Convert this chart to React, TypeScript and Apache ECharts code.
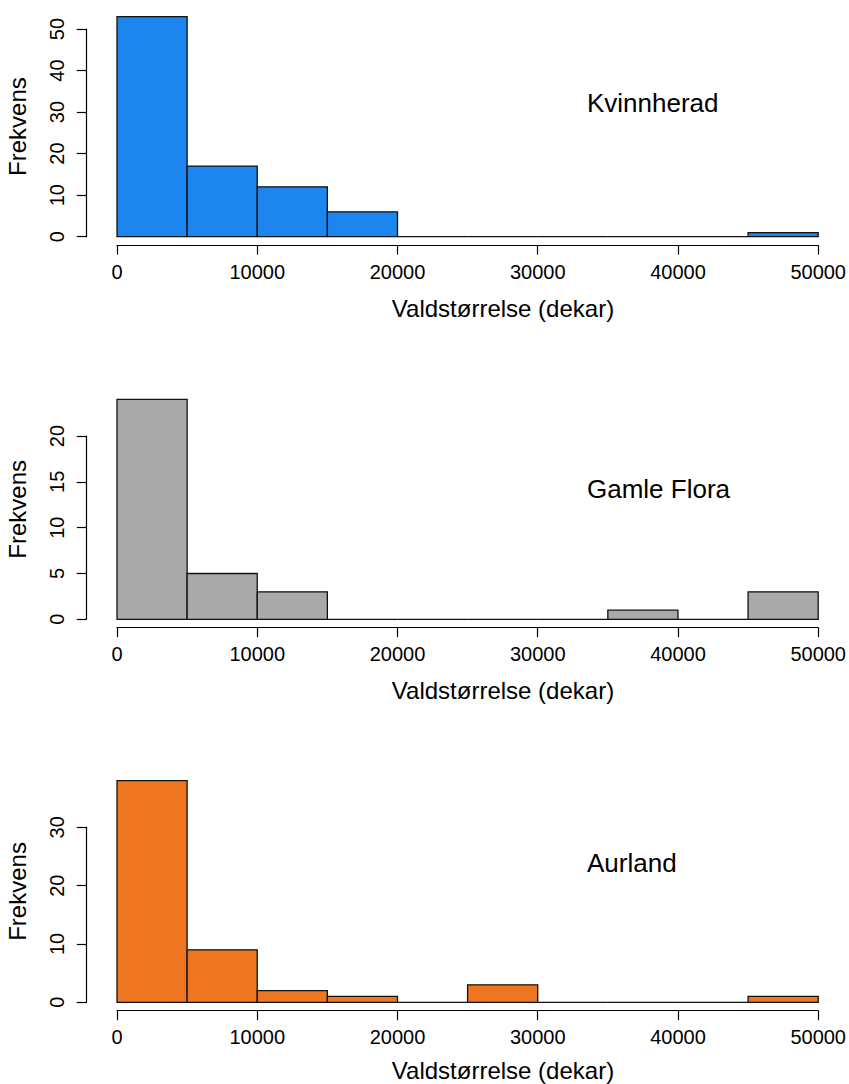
import React, { useEffect, useRef } from "react";
import * as echarts from "echarts";

const breaks = [0, 5000, 10000, 15000, 20000, 25000, 30000, 35000, 40000, 45000, 50000];
const kvinnheradCounts = [53, 17, 12, 6, 0, 0, 0, 0, 0, 1];
const gamleFloraCounts = [24, 5, 3, 0, 0, 0, 0, 1, 0, 3];
const aurlandCounts = [38, 9, 2, 1, 0, 3, 0, 0, 0, 1];
const panelNames = ["Kvinnherad", "Gamle Flora", "Aurland"];
const panelColors = ["#1C86EE", "#A9A9A9", "#EE7621"];
const yMaxes = [50, 20, 30];
const yIntervals = [10, 5, 10];
const xTitle = "Valdstørrelse (dekar)";
const yTitle = "Frekvens";

const FONT = "'Liberation Sans', Arial, sans-serif";

export default function App() {
  const ref = useRef<HTMLDivElement>(null);
  useEffect(() => {
    if (!ref.current) return;
    const chart = echarts.init(ref.current, null, { renderer: "svg" });
    const counts = [kvinnheradCounts, gamleFloraCounts, aurlandCounts];
    // layout (pixels)
    const grids = [
      { top: 29, height: 207.7 },
      { top: 436, height: 183.3 },
      { top: 827.3, height: 175 },
    ];
    const labelY = [103, 489, 862.5];
    const xTitleY = [308, 690.5, 1070.5];

    const grid = grids.map((g) => ({ left: 117, right: 29, top: g.top, height: g.height }));
    const axisLine = { show: true, onZero: false, lineStyle: { color: "#000", width: 1.2 } };
    const axisTick = { show: true, length: 9.5, lineStyle: { color: "#000", width: 1.2 } };
    const xAxis = grids.map((_, i) => ({
      type: "value",
      gridIndex: i,
      min: 0,
      max: 50000,
      interval: 10000,
      offset: 8.4,
      axisLine,
      axisTick,
      splitLine: { show: false },
      axisLabel: {
        color: "#000",
        fontFamily: FONT,
        fontSize: 20,
        margin: 26.7,
        verticalAlign: "middle",
        formatter: (v: number) => String(v),
      },
    }));
    const yAxis = grids.map((_, i) => ({
      type: "value",
      gridIndex: i,
      min: 0,
      max: yMaxes[i],
      interval: yIntervals[i],
      offset: 30.7,
      axisLine,
      axisTick,
      splitLine: { show: false },
      axisLabel: {
        color: "#000",
        fontFamily: FONT,
        fontSize: 20,
        rotate: 90,
        margin: 29.5,
        align: "center",
        verticalAlign: "middle",
      },
    }));
    const series = counts.map((c, i) => ({
      type: "custom",
      xAxisIndex: i,
      yAxisIndex: i,
      clip: false,
      data: c.map((n, k) => [breaks[k], breaks[k + 1], n]),
      renderItem: (params: any, api: any) => {
        const p1 = api.coord([api.value(0), api.value(2)]);
        const p2 = api.coord([api.value(1), 0]);
        return {
          type: "rect",
          shape: { x: p1[0], y: p1[1], width: p2[0] - p1[0], height: p2[1] - p1[1] },
          style: { fill: panelColors[i], stroke: "#111", lineWidth: 1.3 },
        };
      },
    }));
    const graphic: any[] = [];
    grids.forEach((g, i) => {
      const maxCount = Math.max(...counts[i]);
      const zeroY = g.top + g.height;
      const scale = g.height / yMaxes[i];
      graphic.push({
        type: "text",
        x: 587,
        y: labelY[i],
        style: { text: panelNames[i], fontFamily: FONT, fontSize: 26, fill: "#000", align: "left", verticalAlign: "middle" },
      });
      graphic.push({
        type: "text",
        x: 503,
        y: xTitleY[i],
        style: { text: xTitle, fontFamily: FONT, fontSize: 24, fill: "#000", align: "center", verticalAlign: "middle" },
      });
      graphic.push({
        type: "text",
        x: 17.5,
        y: zeroY - (maxCount / 2) * scale,
        rotation: Math.PI / 2,
        style: { text: yTitle, fontFamily: FONT, fontSize: 24, fill: "#000", align: "center", verticalAlign: "middle" },
      });
    });
    chart.setOption({
      animation: false,
      backgroundColor: "#fff",
      grid,
      xAxis,
      yAxis,
      series,
      graphic,
    });
    return () => chart.dispose();
  }, []);
  return (
    <div
      ref={ref}
      style={{ position: "absolute", left: 0, top: 0, width: 849, height: 1084 }}
    />
  );
}
